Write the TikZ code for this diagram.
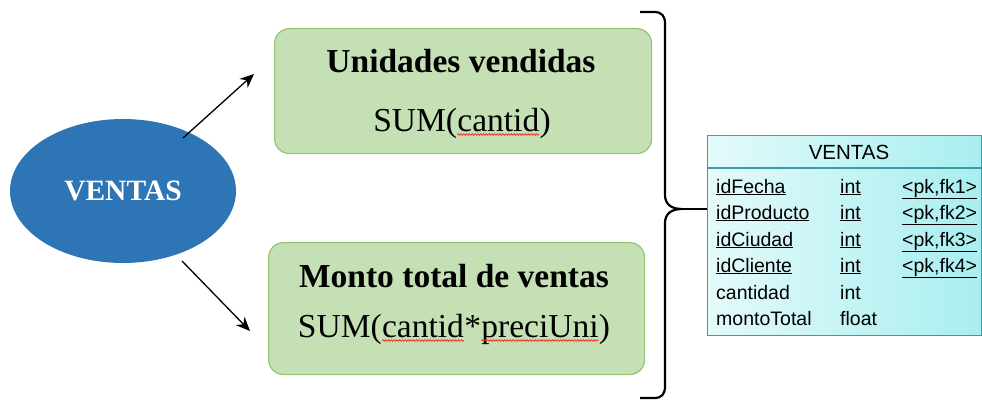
\documentclass[tikz,border=0pt]{standalone}
\usepackage{fontspec}
\setmainfont{Liberation Serif}
\newfontfamily\tblfont{Liberation Sans}
\usetikzlibrary{arrows.meta,shapes.geometric,decorations.pathmorphing,calc}
\definecolor{boxfill}{HTML}{C5E0B4}
\definecolor{boxline}{HTML}{92C471}
\definecolor{ellfill}{HTML}{2E75B6}
\definecolor{tblline}{HTML}{3A9DA8}
\definecolor{tblleft}{HTML}{E4FAFA}
\definecolor{tblright}{HTML}{A8EEF0}
\definecolor{squig}{HTML}{FF2020}
\newcommand\wavyword[1]{\tikz[baseline=(ww.base)]{\node[inner sep=0pt,outer sep=0pt](ww){#1};\draw[squig,line width=0.7pt,decorate,decoration={snake,amplitude=0.8pt,segment length=2.8pt}]([yshift=-3.5pt]ww.base west)--([yshift=-3.5pt]ww.base east);}}
\tikzset{
  greenbox/.style={draw=boxline,line width=1.2pt,fill=boxfill,rounded corners=15pt,anchor=north west,inner sep=0pt},
  titletext/.style={anchor=base,font=\fontsize{33.5}{36}\selectfont\bfseries,inner sep=0pt},
  sumtext/.style={anchor=base,font=\fontsize{33.5}{36}\selectfont,inner sep=0pt},
  arr/.style={line width=1.3pt,-{Stealth[length=14pt,width=12pt]}},
  tbltext/.style={anchor=base west,font=\tblfont\fontsize{19.5}{22}\selectfont,inner sep=0pt},
}
\begin{document}
\begin{tikzpicture}[x=1pt,y=-1pt]
\useasboundingbox (0,0) rectangle (982,404);
% ellipse
\node[ellipse,fill=ellfill,minimum width=226pt,minimum height=144pt,inner sep=0pt,
  font=\fontsize{29.5}{32}\selectfont\bfseries,text=white] (ell) at (123,191) {VENTAS};
% boxes
\node[greenbox,minimum width=377pt,minimum height=125pt] (box1) at (274,28) {};
\node[greenbox,minimum width=376pt,minimum height=132pt] (box2) at (268,242) {};
\node[titletext] (t1) at (461,73) {Unidades vendidas};
\node[sumtext] (s1) at (462,131) {SUM(\wavyword{cantid})};
\node[titletext] (t2) at (454,287) {Monto total de ventas};
\node[sumtext] (s2) at (454,337) {SUM(\wavyword{cantid}*\wavyword{preciUni})};
% arrows
\coordinate (a1) at (254,74);
\coordinate (a2) at (250,331);
\coordinate (a1s) at (183,138);
\coordinate (a2s) at (182,261);
\draw[arr] (a1s) -- (a1);
\draw[arr] (a2s) -- (a2);
% table
\node[draw=tblline,line width=1.3pt,left color=tblleft,right color=tblright,
  minimum width=274pt,minimum height=200pt,anchor=north west,inner sep=0pt] (tbl) at (707,135) {};
\draw[tblline,line width=1.1pt] ($(tbl.north west)+(0,33)$) -- ($(tbl.north east)+(0,33)$);
\node[anchor=base,font=\tblfont\fontsize{20.5}{22}\selectfont,inner sep=0pt] (hdr) at (849,159) {VENTAS};
\node[tbltext] (n1) at (716,193) {\underline{idFecha}};
\node[tbltext] (n2) at (716,219) {\underline{idProducto}};
\node[tbltext] (n3) at (716,246) {\underline{idCiudad}};
\node[tbltext] (n4) at (716,272) {\underline{idCliente}};
\node[tbltext] (n5) at (716,299) {cantidad};
\node[tbltext] (n6) at (716,325) {montoTotal};
\node[tbltext] (y1) at (840,193) {\underline{int}};
\node[tbltext] (y2) at (840,219) {\underline{int}};
\node[tbltext] (y3) at (840,246) {\underline{int}};
\node[tbltext] (y4) at (840,272) {\underline{int}};
\node[tbltext] (y5) at (840,299) {int};
\node[tbltext] (y6) at (840,325) {float};
\node[tbltext] (k1) at (902,193) {\underline{<pk,fk1>}};
\node[tbltext] (k2) at (902,219) {\underline{<pk,fk2>}};
\node[tbltext] (k3) at (902,246) {\underline{<pk,fk3>}};
\node[tbltext] (k4) at (902,272) {\underline{<pk,fk4>}};
% brace
\coordinate (tip) at (682,209);
\draw[line width=2.2pt,line join=round]
  (640,12) -- (654,12) .. controls (662,12) and (665,16) .. (665,24)
  -- (665,195) .. controls (665,204) and (671,209) .. (tip)
  .. controls (671,209) and (665,214) .. (665,223)
  -- (665,386) .. controls (665,394) and (662,398) .. (654,398) -- (640,398);
\draw[line width=1.6pt] (tip) -- (tbl.west |- tip);
\end{tikzpicture}
\end{document}
